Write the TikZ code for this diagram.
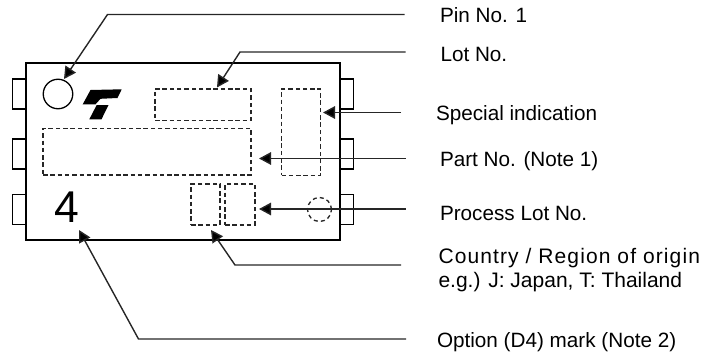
\documentclass[tikz,border=0pt]{standalone}
\usepackage{fontspec}
\setmainfont{Liberation Sans}
\usetikzlibrary{arrows.meta}
\tikzset{
  body/.style={draw=black,line width=1.9pt,minimum width=314pt,minimum height=177pt,inner sep=0pt,outer sep=0pt},
  lead/.style={draw=black,line width=1.6pt,minimum width=14pt,minimum height=30pt,inner sep=0pt,outer sep=0pt},
  dbox/.style={draw=black!85,line width=1.3pt,dash pattern=on 4.5pt off 2.8pt,inner sep=0pt,outer sep=0pt},
  ringmark/.style={draw=black,line width=1.3pt,circle,inner sep=0pt,outer sep=0pt},
  leader/.style={draw=black!85,line width=1.4pt,-{Triangle[length=12pt,width=12.5pt,fill=black]}},
  lbl/.style={anchor=base west,inner sep=0pt,outer sep=0pt,font=\fontsize{20.7pt}{24pt}\selectfont,text=black},
}
\begin{document}
\begin{tikzpicture}[x=1pt,y=-1pt]
\useasboundingbox (0,0) rectangle (706,356);
% leads
\node[lead] (l1) at (19.5,94) {};
\node[lead] (l2) at (19.5,154) {};
\node[lead] (l3) at (19.5,209.5) {};
\node[lead] (r1) at (346.5,94) {};
\node[lead] (r2) at (346.5,154) {};
\node[lead] (r3) at (346.5,209.5) {};
\node[body,fill=white] (pkg) at (183,151.5) {};
% marks
\node[ringmark,minimum size=29.5pt] (pin) at (58,94) {};
\fill[black] (90.5,90) -- (121.7,89.3) -- (117.5,98) -- (100.5,98.8) -- (95.5,104.3) -- (82.7,104.3) -- cycle;
\fill[black] (96.7,105) -- (108.5,105) -- (101.5,119.3) -- (89.3,119.3) -- cycle;
\node[dbox,minimum width=96pt,minimum height=31.5pt] (lot) at (203,104.8) {};
\node[dbox,minimum width=208pt,minimum height=46.5pt] (part) at (147,151.8) {};
\node[dbox,minimum width=39pt,minimum height=86.5pt] (spec) at (301,132.2) {};
\node[dbox,minimum width=29pt,minimum height=41pt] (proc1) at (205.5,204.5) {};
\node[dbox,minimum width=30pt,minimum height=41pt] (proc2) at (240,204.5) {};
\node[ringmark,draw=black!85,dash pattern=on 4pt off 3.2pt,minimum size=24pt] (dot) at (319.5,209.5) {};
\node[inner sep=0pt,outer sep=0pt,anchor=base,font=\fontsize{44.5pt}{50pt}\selectfont] (four) at (66.5,222) {4};
% labels
\node[lbl] (tpin) at (440,22) {Pin No. 1};
\node[lbl] (tlot) at (440.5,61.7) {Lot No.};
\node[lbl] (tspec) at (436,120) {Special indication};
\node[lbl] (tpart) at (440,166) {Part No. (Note 1)};
\node[lbl] (tproc) at (440,220.7) {Process Lot No.};
\node[lbl,font=\fontsize{21pt}{24pt}\selectfont\addfontfeature{LetterSpace=5.3}] (tcty) at (438.5,263) {Country / Region of origin};
\node[lbl,font=\fontsize{21pt}{24pt}\selectfont] (tcty2) at (438.5,287) {e.g.) J: Japan, T: Thailand};
\node[lbl] (topt) at (437,347.7) {Option (D4) mark (Note 2)};
% connector ends
\coordinate (epin) at (404.5,14.5);
\coordinate (bpin) at (107.5,14.5);
\coordinate (apin) at (64,79);
\coordinate (elot) at (405.5,52);
\coordinate (blot) at (240,52);
\coordinate (alot) at (217,87.5);
\coordinate (espec) at (401,112.5);
\coordinate (aspec) at (323,112.5);
\coordinate (epart) at (405.5,158.5);
\coordinate (apart) at (259,158.5);
\coordinate (eproc) at (405.5,209);
\coordinate (aproc) at (259,209);
\coordinate (ecty) at (401,265);
\coordinate (bcty) at (235,265);
\coordinate (acty) at (211,230);
\coordinate (eopt) at (406,339);
\coordinate (bopt) at (138.5,339);
\coordinate (aopt) at (79,230);
\draw[leader] (epin) -- (bpin) -- (apin);
\draw[leader] (elot) -- (blot) -- (alot);
\draw[leader] (espec) -- (aspec);
\draw[leader] (epart) -- (apart);
\draw[leader] (eproc) -- (aproc);
\draw[leader] (ecty) -- (bcty) -- (acty);
\draw[leader] (eopt) -- (bopt) -- (aopt);
\end{tikzpicture}
\end{document}
